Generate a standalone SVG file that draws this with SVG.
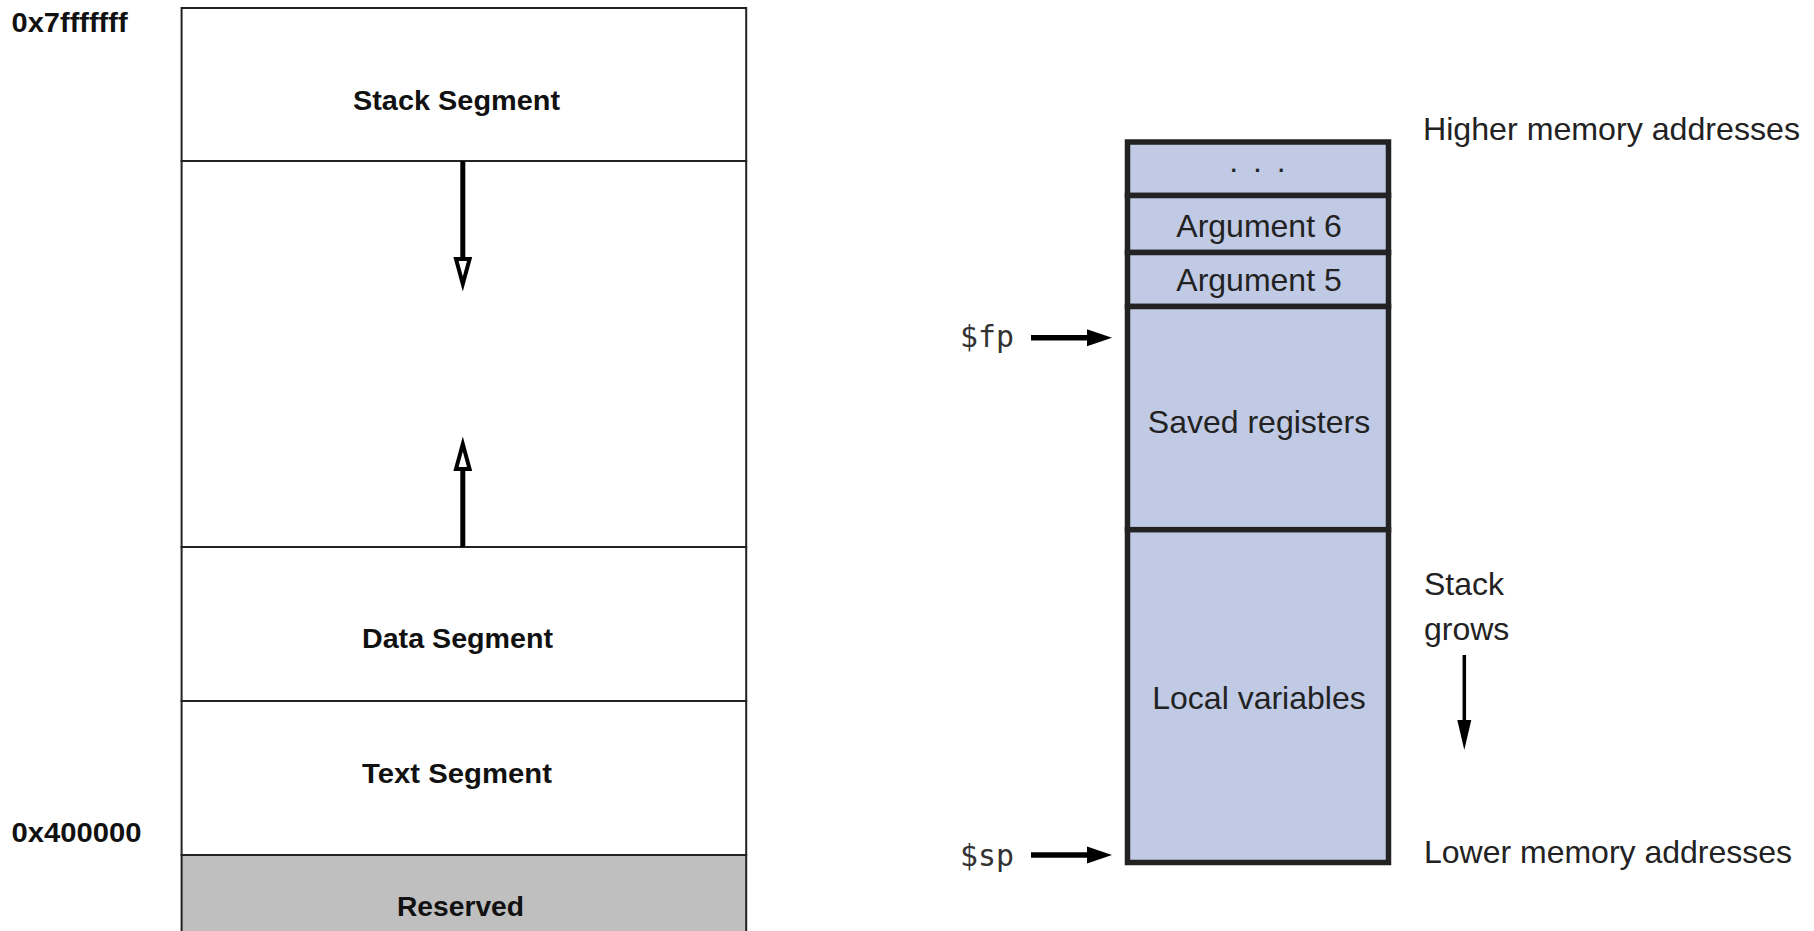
<svg xmlns="http://www.w3.org/2000/svg" width="1814" height="931" viewBox="0 0 1814 931">
<style>
  .seg { fill: #ffffff; stroke: #222; stroke-width: 2; }
  .res { fill: #bfbfbf; stroke: #222; stroke-width: 2; }
  .lt { font-family: "Liberation Sans", Arial, sans-serif; font-weight: bold; font-size: 27px; fill: #111; }
  .cell { fill: #c0cae4; stroke: #222; stroke-width: 5.5; }
  .rt { font-family: "Liberation Sans", Arial, sans-serif; font-size: 32px; fill: #222; }
  .mono { font-family: "DejaVu Sans Mono", "Liberation Mono", monospace; font-size: 30px; fill: #333; }
  .shaft { stroke: #000; stroke-width: 5; fill: none; }
  .hollow { fill: #fff; stroke: #000; stroke-width: 4; stroke-linejoin: miter; }
  .ptr { stroke: #000; stroke-width: 5.5; fill: none; }
  .solid { fill: #000; stroke: none; }
</style>

<!-- Left: memory layout -->
<g id="stack-segment">
  <rect class="seg" x="181.6" y="8" width="564.6" height="153"/>
  <text class="lt" x="456.5" y="109.5" text-anchor="middle" textLength="207" lengthAdjust="spacingAndGlyphs">Stack Segment</text>
</g>
<g id="free-space">
  <rect class="seg" x="181.6" y="161" width="564.6" height="386"/>
</g>
<g id="data-segment">
  <rect class="seg" x="181.6" y="547" width="564.6" height="154"/>
  <text class="lt" x="457.5" y="648" text-anchor="middle" textLength="191" lengthAdjust="spacingAndGlyphs">Data Segment</text>
</g>
<g id="text-segment">
  <rect class="seg" x="181.6" y="701" width="564.6" height="154"/>
  <text class="lt" x="457" y="783" text-anchor="middle" textLength="190" lengthAdjust="spacingAndGlyphs">Text Segment</text>
</g>
<g id="reserved">
  <rect class="res" x="181.6" y="855" width="564.6" height="90"/>
  <text class="lt" x="460.5" y="916" text-anchor="middle" textLength="127" lengthAdjust="spacingAndGlyphs">Reserved</text>
</g>
<g id="addr-top">
  <text class="lt" x="11.6" y="32" textLength="116" lengthAdjust="spacingAndGlyphs">0x7fffffff</text>
</g>
<g id="addr-bottom">
  <text class="lt" x="11.6" y="842" textLength="130" lengthAdjust="spacingAndGlyphs">0x400000</text>
</g>

<!-- Right: stack frame -->
<g id="frame-dots">
  <rect class="cell" x="1127.5" y="142" width="261" height="53.5"/>
  <text class="rt" x="1259" y="172" text-anchor="middle" fill="#444" letter-spacing="3">. . .</text>
</g>
<g id="argument-6">
  <rect class="cell" x="1127.5" y="195.5" width="261" height="57"/>
  <text class="rt" x="1259" y="236.7" text-anchor="middle">Argument 6</text>
</g>
<g id="argument-5">
  <rect class="cell" x="1127.5" y="252.5" width="261" height="54"/>
  <text class="rt" x="1259" y="290.7" text-anchor="middle">Argument 5</text>
</g>
<g id="saved-registers">
  <rect class="cell" x="1127.5" y="306.5" width="261" height="223.2"/>
  <text class="rt" x="1259" y="432.7" text-anchor="middle">Saved registers</text>
</g>
<g id="local-variables">
  <rect class="cell" x="1127.5" y="529.7" width="261" height="332.8"/>
  <text class="rt" x="1259" y="709" text-anchor="middle">Local variables</text>
</g>
<g id="label-higher">
  <text class="rt" x="1423" y="140" font-size="31" textLength="377" lengthAdjust="spacingAndGlyphs">Higher memory addresses</text>
</g>
<g id="label-lower">
  <text class="rt" x="1424" y="863" font-size="31" textLength="368" lengthAdjust="spacingAndGlyphs">Lower memory addresses</text>
</g>
<g id="label-stack-grows">
  <text class="rt" x="1424" y="595" font-size="31">Stack</text>
  <text class="rt" x="1424" y="640" font-size="31">grows</text>
</g>
<g id="fp">
  <text class="mono" x="960" y="347" textLength="54" lengthAdjust="spacingAndGlyphs">$fp</text>
</g>
<g id="sp">
  <text class="mono" x="960" y="866" textLength="54" lengthAdjust="spacingAndGlyphs">$sp</text>
</g>

<!-- Connectors -->
<g id="connectors">
  <!-- stack grows down -->
  <line class="shaft" x1="462.8" y1="161" x2="462.8" y2="258"/>
  <polygon class="hollow" points="456,259 469.6,259 462.8,284"/>
  <!-- heap grows up -->
  <line class="shaft" x1="462.8" y1="547" x2="462.8" y2="470"/>
  <polygon class="hollow" points="456,469 469.6,469 462.8,444"/>
  <!-- $fp pointer -->
  <line class="ptr" x1="1031" y1="337.8" x2="1090" y2="337.8"/>
  <polygon class="solid" points="1087,329.3 1112,337.8 1087,346.3"/>
  <!-- $sp pointer -->
  <line class="ptr" x1="1031" y1="855" x2="1090" y2="855"/>
  <polygon class="solid" points="1087,846.5 1112,855 1087,863.5"/>
  <!-- stack grows arrow -->
  <line stroke="#000" stroke-width="3.5" x1="1464.3" y1="655" x2="1464.3" y2="722"/>
  <polygon class="solid" points="1457.3,720 1471.3,720 1464.3,750"/>
</g>
</svg>
